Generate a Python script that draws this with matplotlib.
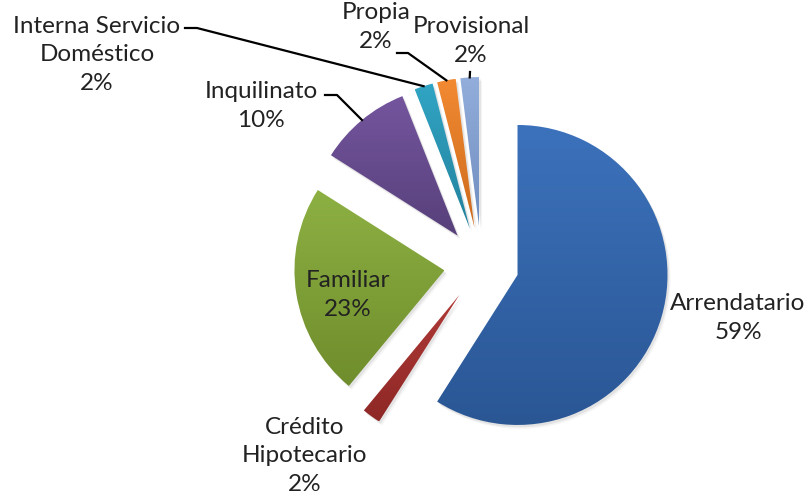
import numpy as np
import matplotlib.pyplot as plt
from matplotlib.patches import Wedge
from matplotlib.colors import LinearSegmentedColormap

plt.rcParams['font.family'] = ['Lato', 'DejaVu Sans']

# datos del gráfico
categorias = ['Arrendatario', 'Crédito\nHipotecario', 'Familiar', 'Inquilinato',
              'Interna Servicio\nDoméstico', 'Propia', 'Provisional']
porcentajes = [59, 2, 23, 10, 2, 2, 2]

# colores (degradado de arriba hacia abajo, estilo Excel)
colores_arriba = ['#3C72BC', '#B03A37', '#8DB043', '#74559E', '#31A5C4', '#F28A32', '#93AEDB']
colores_abajo = ['#2A5694', '#8E2826', '#6F8D2C', '#57407A', '#23819D', '#CC6A1C', '#6E8CBF']

# posición del centro del pie y radio, en píxeles de la figura
CX, CY, R = 481.5, 264.5, 150.0
W, H = 812, 501


def px(x, y):
    # píxel (desde arriba-izquierda) -> coordenadas de datos
    return (x - CX) / R, (CY - y) / R


# centro de cada etiqueta (px) y codo de la línea guía (px)
pos_etiquetas = [(738, 318), (305, 456), (348, 295), (261, 106), (97, 55), (376, 27), (471, 41)]
codos = [None, None, None, [(325, 95), (337, 95)], [(185, 28), (197, 28)],
         [(397, 53), (408, 53)], [(470, 72)]]

fig = plt.figure(figsize=(W / 100, H / 100), dpi=100)
ax = fig.add_axes([0, 0, 1, 1])

wedges, _ = ax.pie(porcentajes, explode=[0.25] * len(porcentajes), startangle=90,
                   counterclock=False, radius=1)

grad = np.linspace(0, 1, 256).reshape(-1, 1)
for w, c1, c2 in zip(wedges, colores_arriba, colores_abajo):
    w.set_facecolor('none')
    w.set_edgecolor('none')
    cx, cy = w.center
    # sombra suave
    for k, a in [(0.02, 0.04), (0.012, 0.07)]:
        ax.add_patch(Wedge((cx + k, cy - k * 1.3), w.r, w.theta1, w.theta2,
                           color='k', alpha=a, lw=0, zorder=0.5))
    bb = w.get_path().get_extents()
    cmap = LinearSegmentedColormap.from_list('g', [c2, c1])
    im = ax.imshow(grad, cmap=cmap, extent=[bb.x0, bb.x1, bb.y0, bb.y1],
                   origin='lower', aspect='auto', zorder=1)
    im.set_clip_path(w)

for w, txt, (lx, ly), codo in zip(wedges, categorias, pos_etiquetas, codos):
    pct = porcentajes[categorias.index(txt)]
    x, y = px(lx, ly)
    ax.text(x, y, f'{txt}\n{pct}%', ha='center', va='center', fontsize=17.5,
            linespacing=1.42, color='#222222', zorder=3)
    if codo:
        m = np.deg2rad((w.theta1 + w.theta2) / 2)
        cx, cy = w.center
        pts = [px(*p) for p in codo] + [(cx + w.r * np.cos(m), cy + w.r * np.sin(m))]
        ax.plot([p[0] for p in pts], [p[1] for p in pts], color='black', lw=1.6, zorder=2)

ax.set_aspect('auto')
ax.set_xlim(-CX / R, (W - CX) / R)
ax.set_ylim(-(H - CY) / R, CY / R)
ax.axis('off')

fig.savefig('out.png', dpi=100, facecolor='white')
